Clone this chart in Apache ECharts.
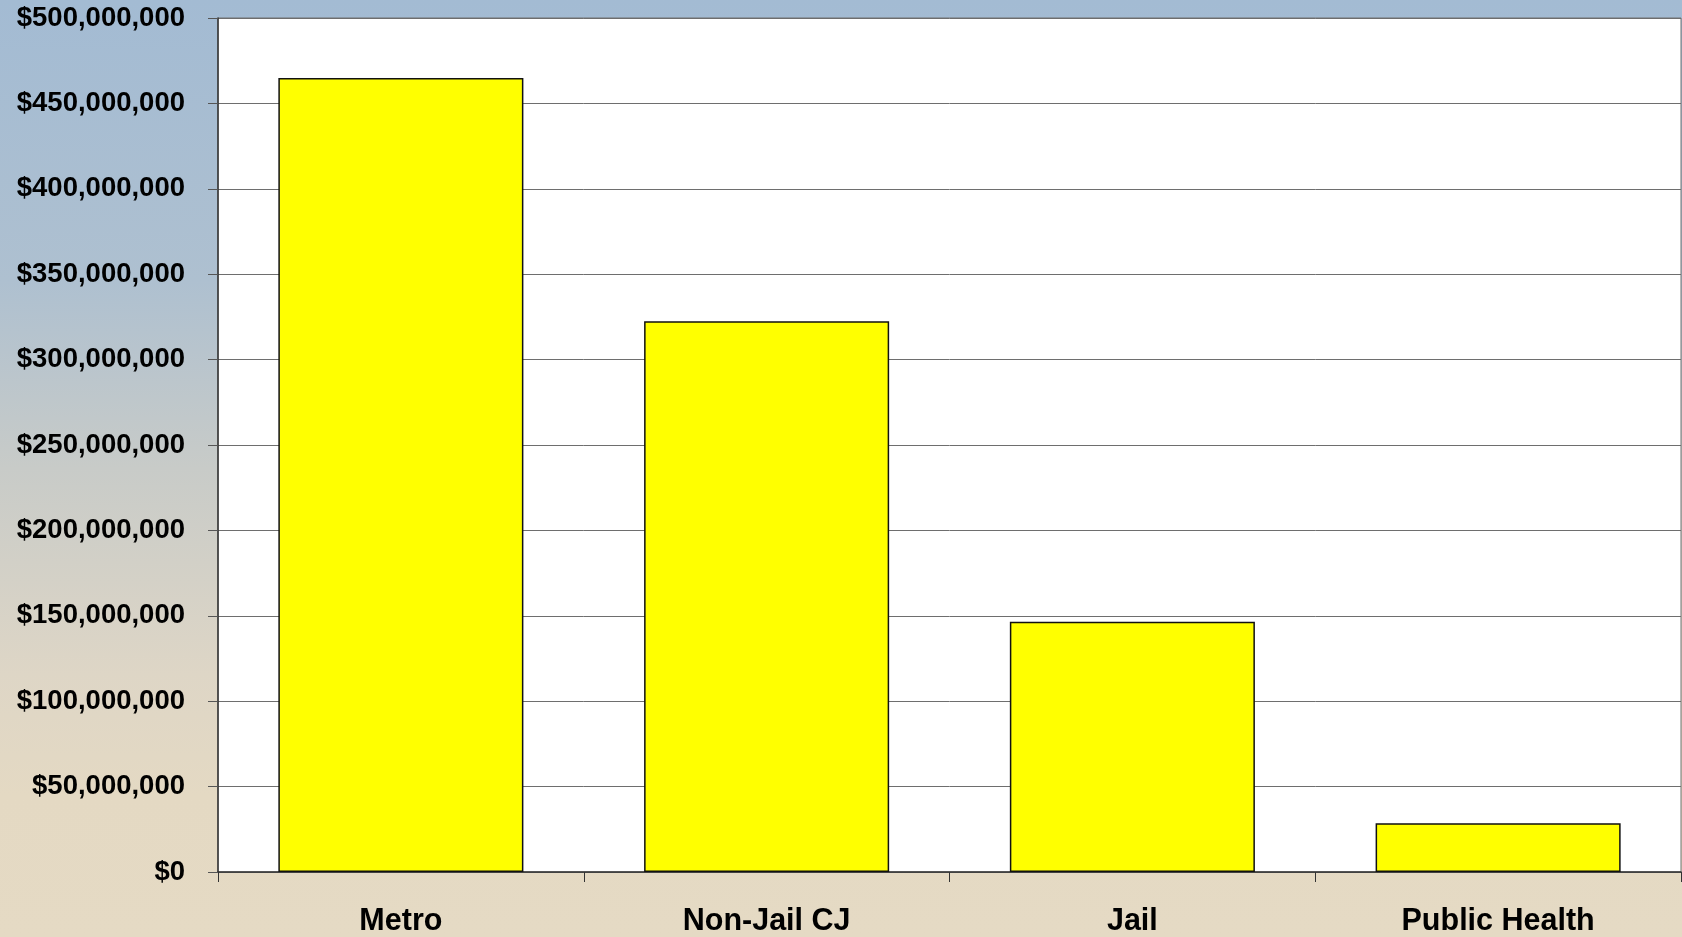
<!DOCTYPE html>
<html>
<head>
<meta charset="utf-8">
<script src="https://cdn.jsdelivr.net/npm/echarts@6/dist/echarts.min.js"></script>
<style>
  html, body { margin: 0; padding: 0; }
  #chart { width: 1682px; height: 937px; }
</style>
</head>
<body>
<div id="chart"></div>
<script>
// data
var categories = ['Metro', 'Non-Jail CJ', 'Jail', 'Public Health'];
var spending = [464800000, 322500000, 146500000, 28500000];
var yMin = 0;
var yMax = 500000000;
var yStep = 50000000;

function money(v) {
  return '$' + String(v).replace(/\B(?=(\d{3})+(?!\d))/g, ',');
}

var myChart = echarts.init(document.getElementById('chart'));

var option = {
  animation: false,
  backgroundColor: {
    type: 'linear', x: 0, y: 0, x2: 0, y2: 1,
    colorStops: [
      { offset: 0, color: '#A3BBD3' },
      { offset: 0.3, color: '#AEC0D0' },
      { offset: 0.5, color: '#C8CBC8' },
      { offset: 0.72, color: '#DED6C6' },
      { offset: 0.85, color: '#E4D9C3' },
      { offset: 1, color: '#E5DAC4' }
    ]
  },
  grid: {
    left: 218,
    right: 1,
    top: 18,
    bottom: 65,
    show: true,
    backgroundColor: '#FFFFFF',
    borderColor: '#707070',
    borderWidth: 1
  },
  xAxis: {
    type: 'category',
    data: categories,
    axisLine: { show: true, lineStyle: { color: '#333333', width: 1.5 } },
    axisTick: { show: true, length: 10, alignWithLabel: false, lineStyle: { color: '#333333' } },
    axisLabel: {
      margin: 34,
      color: '#000000',
      fontFamily: 'Liberation Sans',
      fontWeight: 'bold',
      fontSize: 30.5
    },
    splitLine: { show: false }
  },
  yAxis: {
    type: 'value',
    min: yMin,
    max: yMax,
    interval: yStep,
    axisLine: { show: true, lineStyle: { color: '#333333', width: 1.5 } },
    axisTick: { show: true, inside: false, length: 10, lineStyle: { color: '#555555' } },
    axisLabel: {
      margin: 33,
      color: '#000000',
      fontFamily: 'Liberation Sans',
      fontWeight: 'bold',
      fontSize: 27.5,
      formatter: money
    },
    splitLine: { show: true, lineStyle: { color: '#6E6E6E', width: 1 } }
  },
  series: [
    {
      type: 'bar',
      data: spending,
      barCategoryGap: '33%',
      itemStyle: {
        color: '#FFFF00',
        borderColor: '#111111',
        borderWidth: 1.5
      }
    }
  ]
};

myChart.setOption(option);
</script>
</body>
</html>
